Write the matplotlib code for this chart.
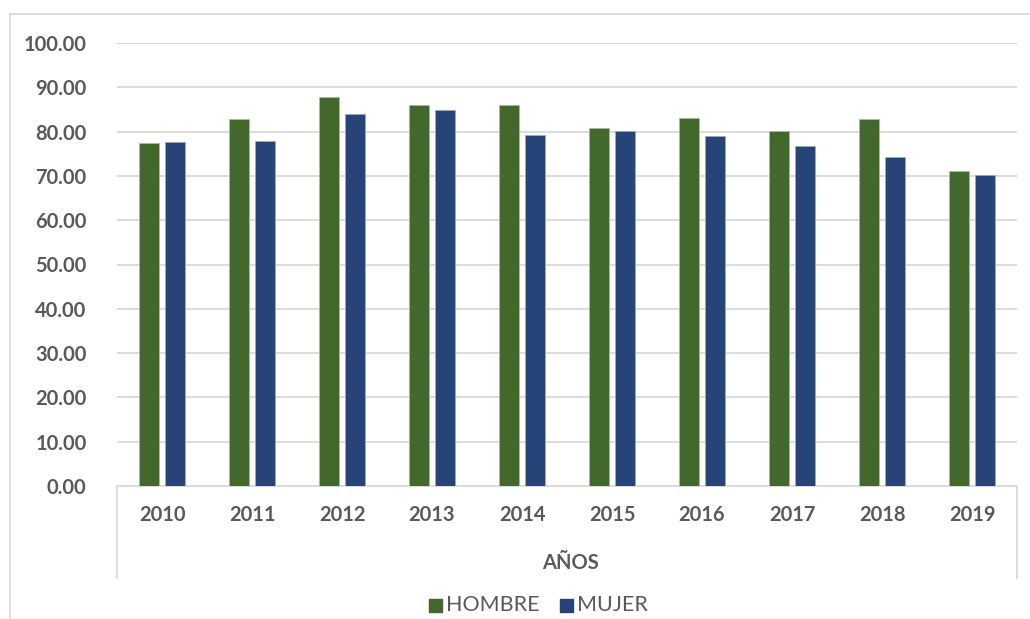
import matplotlib.pyplot as plt
from matplotlib.lines import Line2D
from matplotlib.patches import Rectangle
import numpy as np

years = ["2010", "2011", "2012", "2013", "2014", "2015", "2016", "2017", "2018", "2019"]
hombre = [77.4, 82.8, 87.9, 86.1, 86.1, 80.7, 83.1, 80.2, 82.8, 71.1]
mujer = [77.6, 77.9, 83.9, 84.9, 79.2, 80.1, 78.9, 76.7, 74.2, 70.3]

verde = "#43682B"
azul = "#264478"
gris = "#595959"
linea = "#D9D9D9"

plt.rcParams["font.family"] = ["Lato", "DejaVu Sans"]

W, H = 1030, 619
fig = plt.figure(figsize=(W / 100, H / 100), dpi=100)

# area del grafico en pixeles
x0, x1 = 117, 1017
y0, y1 = 43, 486
ax = fig.add_axes([x0 / W, 1 - y1 / H, (x1 - x0) / W, (y1 - y0) / H])

x = np.arange(len(years))
ancho = 0.222
ax.bar(x - 0.144, hombre, ancho, color=verde, edgecolor="#A9BC9E", linewidth=0.6, zorder=3)
ax.bar(x + 0.144, mujer, ancho, color=azul, edgecolor="#9AAAC6", linewidth=0.6, zorder=3)

ax.set_xlim(-0.5, len(years) - 0.5)
ax.set_ylim(0, 100)
ax.set_yticks(np.arange(0, 101, 10))
ax.set_yticklabels([f"{v:.2f}" for v in np.arange(0, 101, 10)],
                   fontsize=14.5, fontweight="bold", color=gris)
ax.tick_params(axis="y", length=0, pad=22)
ax.set_xticks(x)
ax.set_xticklabels(years, fontsize=14.5, fontweight="bold", color=gris)
ax.tick_params(axis="x", length=0, pad=14)

ax.grid(axis="y", color=linea, linewidth=1.3, zorder=0)
for s in ["top", "right", "left"]:
    ax.spines[s].set_visible(False)
ax.spines["bottom"].set_color(linea)
ax.spines["bottom"].set_linewidth(1.3)

# lineas verticales del eje de categorias
for px in (x0, x1):
    fig.add_artist(Line2D([px / W, px / W], [1 - y1 / H, 1 - 578 / H],
                          color=linea, linewidth=1.3))

fig.text(570 / W, 1 - 563 / H, "AÑOS", ha="center", va="center",
         fontsize=14.5, fontweight="bold", color=gris)

# leyenda
fig.add_artist(Rectangle((429 / W, 1 - 612 / H), 13 / W, 13 / H, color=verde))
fig.text(446 / W, 1 - 605 / H, "HOMBRE", ha="left", va="center", fontsize=15.5, color=gris)
fig.add_artist(Rectangle((560 / W, 1 - 612 / H), 13 / W, 13 / H, color=azul))
fig.text(577 / W, 1 - 605 / H, "MUJER", ha="left", va="center", fontsize=15.5, color=gris)

# borde exterior
fig.add_artist(Line2D([10 / W, 1], [1 - 14 / H, 1 - 14 / H], color=linea, linewidth=1.3))
fig.add_artist(Line2D([10 / W, 10 / W], [0, 1 - 14 / H], color=linea, linewidth=1.3))

fig.savefig("out.png", dpi=100)
